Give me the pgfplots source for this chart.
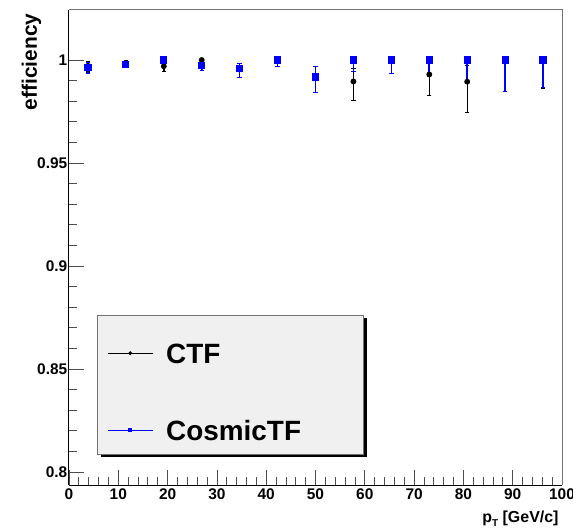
\documentclass[border=0pt]{standalone}
\usepackage{fontspec}
\setmainfont{Liberation Sans}
\usepackage{pgfplots}
\pgfplotsset{compat=1.18}
\definecolor{legfill}{RGB}{240,240,240}
\begin{document}
\begin{tikzpicture}
\begin{axis}[
    scale only axis,
    width=493bp, height=475bp,
    xmin=0, xmax=100, ymin=0.7937, ymax=1.0243,
    clip=false,
    axis lines*=left,
    axis line style={-, line width=1bp, black},
    xtick={0,10,...,100},
    ytick={0.8,0.85,0.9,0.95,1},
    minor x tick num=4, minor y tick num=4,
    tick align=inside,
    major tick length=15bp, minor tick length=8bp,
    tick style={black!70, line width=0.8bp},
    /pgf/number format/fixed,
    /pgf/number format/assume math mode=true,
    tick label style={font=\fontsize{15.5}{18}\selectfont\bfseries},
    yticklabel style={inner xsep=1.5bp},
    every axis y label/.style={at={([xshift=-32bp]rel axis cs:0,1)}, rotate=90, anchor=base east,
        font=\fontsize{21}{24}\selectfont\bfseries},
    every axis x label/.style={at={([yshift=-37bp]rel axis cs:1,0)}, anchor=base east,
        font=\fontsize{16}{19}\selectfont\bfseries},
    ylabel={efficiency},
    xlabel={p\raisebox{-4.5bp}{\fontsize{10}{10}\selectfont T} [GeV/c]},
    legend image code/.code={\draw[#1, sharp plot, line width=1bp, mark repeat=2, mark phase=2,
        mark options={scale=0.6}]
        plot coordinates {(0bp,0bp) (22.5bp,0bp) (45bp,0bp)};},
    legend style={draw=none, fill=none, inner sep=0pt, row sep=57bp,
        at={(rel axis cs:0.0771,0.2989)}, anchor=north west,
        nodes={inner sep=0pt, text height=20bp, text depth=0pt,
            font=\fontsize{28}{32}\selectfont\bfseries},
        /tikz/every odd column/.append style={column sep=13bp}},
    legend cell align=left,
]
% frame and legend box
\draw[black!55, line width=1bp] (rel axis cs:0,1) -- (rel axis cs:1,1) -- (rel axis cs:1,0);
\fill[black] (rel axis cs:0.0649,0.0590) rectangle (rel axis cs:0.6044,0.3516);
\draw[black!55, fill=legfill, line width=0.8bp] (rel axis cs:0.0568,0.0653) rectangle (rel axis cs:0.5963,0.3579);

\addplot[black, only marks, mark=*, mark size=2.2bp, line width=1.4bp,
    error bars/.cd, y dir=both, y explicit,
    error bar style={line width=1.4bp},
    error mark options={rotate=90, mark size=2.2bp, line width=1.2bp}]
coordinates {
    (3.85, 0.9972) += (0,0.0020) -= (0,0.0030)
    (11.54,0.9985) += (0,0.0010) -= (0,0.0020)
    (19.23,0.9970) += (0,0.0015) -= (0,0.0025)
    (26.92,1.0000) += (0,0) -= (0,0.0020)
    (34.62,0.9960) += (0,0.0025) -= (0,0.0044)
    (42.31,1.0000) += (0,0) -= (0,0.0032)
    (50.00,0.9918) += (0,0.0050) -= (0,0.0076)
    (57.69,0.9896) += (0,0.0062) -= (0,0.0093)
    (65.38,1.0000) += (0,0) -= (0,0.0066)
    (73.08,0.9930) += (0,0.0057) -= (0,0.0103)
    (80.77,0.9895) += (0,0.0079) -= (0,0.0151)
    (88.46,1.0000) += (0,0) -= (0,0.0154)
    (96.15,1.0000) += (0,0) -= (0,0.0137)
};
\addplot[blue, only marks, mark=square*, mark size=2.8bp, line width=1.6bp,
    error bars/.cd, y dir=both, y explicit,
    error bar style={line width=1.6bp},
    error mark options={rotate=90, mark size=2.2bp, line width=1.2bp}]
coordinates {
    (3.85, 0.9963) += (0,0.0025) -= (0,0.0027)
    (11.54,0.9978) += (0,0.0014) -= (0,0.0016)
    (19.23,1.0000) += (0,0) -= (0,0.0025)
    (26.92,0.9972) += (0,0.0017) -= (0,0.0022)
    (34.62,0.9960) += (0,0.0025) -= (0,0.0044)
    (42.31,1.0000) += (0,0) -= (0,0.0032)
    (50.00,0.9918) += (0,0.0050) -= (0,0.0076)
    (57.69,1.0000) += (0,0) -= (0,0.0055)
    (65.38,1.0000) += (0,0) -= (0,0.0066)
    (73.08,1.0000) += (0,0) -= (0,0.0073)
    (80.77,1.0000) += (0,0) -= (0,0.0110)
    (88.46,1.0000) += (0,0) -= (0,0.0154)
    (96.15,1.0000) += (0,0) -= (0,0.0132)
};
\legend{CTF, CosmicTF}
\end{axis}
\pgfresetboundingbox
\path[use as bounding box] ([xshift=-69bp,yshift=-44bp]current axis.south west)
    rectangle ([xshift=11bp,yshift=10bp]current axis.north east);
\end{tikzpicture}
\end{document}
